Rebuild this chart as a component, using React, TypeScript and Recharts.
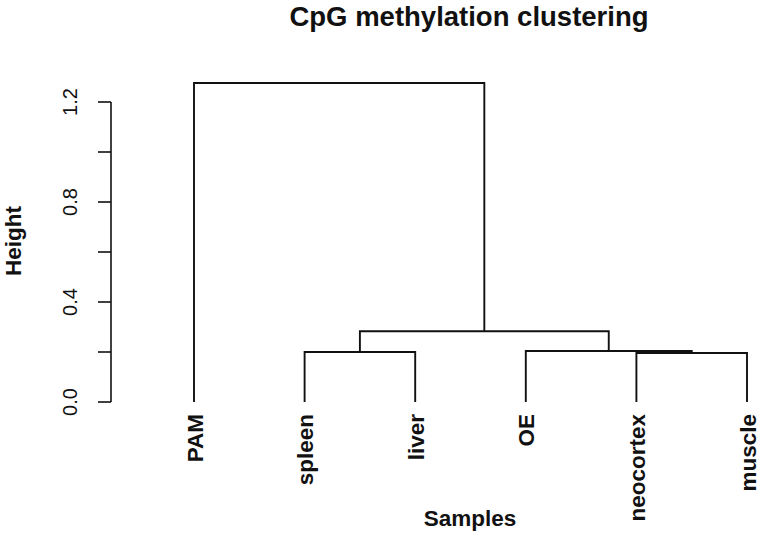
import React from "react";
import { ComposedChart, Line, XAxis, YAxis, ReferenceLine } from "recharts";

// leaves in dendrogram order
const LEAVES = ["PAM", "spleen", "liver", "OE", "neocortex", "muscle"];
// hclust-style merges: negative = leaf (1-based position), positive = earlier merge
const MERGE_LEFT = [-5, -2, -4, 2, -1];
const MERGE_RIGHT = [-6, -3, 1, 3, 4];
const MERGE_HEIGHT = [0.196, 0.2, 0.204, 0.283, 1.276];
const Y_TICKS = [0, 0.2, 0.4, 0.6, 0.8, 1.0, 1.2];
const Y_LABELED = [0, 0.4, 0.8, 1.2];

const FONT = '"Liberation Sans", Arial, Helvetica, sans-serif';
const X_MIN = 1 - 83 / 110.6;
const X_MAX = 6 + 13 / 110.6;

type Pt = { x: number; y: number };

const buildSegments = (): Pt[][] => {
  const nodeX: number[] = [];
  const pos = (id: number) =>
    id < 0 ? { x: -id, y: 0 } : { x: nodeX[id - 1], y: MERGE_HEIGHT[id - 1] };
  return MERGE_HEIGHT.map((h, i) => {
    const l = pos(MERGE_LEFT[i]);
    const r = pos(MERGE_RIGHT[i]);
    nodeX.push((l.x + r.x) / 2);
    return [
      { x: l.x, y: l.y },
      { x: l.x, y: h },
      { x: r.x, y: h },
      { x: r.x, y: r.y },
    ];
  });
};

const segments = buildSegments();

const LeafTick = ({ x, payload }: { x?: number; y?: number; payload?: { value: number } }) => {
  const bx = (x ?? 0) + 8.5;
  const by = 414;
  return (
    <text
      x={bx}
      y={by}
      transform={`rotate(-90, ${bx}, ${by})`}
      textAnchor="end"
      fontFamily={FONT}
      fontWeight="bold"
      fontSize={22.5}
      fill="#111"
    >
      {LEAVES[(payload?.value ?? 1) - 1]}
    </text>
  );
};

const HeightTick = ({ y, payload }: { x?: number; y?: number; payload?: { value: number } }) => {
  const v = payload?.value ?? 0;
  if (!Y_LABELED.some(t => Math.abs(t - v) < 1e-6)) return null;
  const bx = 77;
  return (
    <text
      x={bx}
      y={y}
      transform={`rotate(-90, ${bx}, ${y})`}
      textAnchor="middle"
      fontFamily={FONT}
      fontSize={20}
      fill="#111"
    >
      {v.toFixed(1)}
    </text>
  );
};

export default function App() {
  return (
    <div style={{ position: "absolute", left: 0, top: 0, width: 760, height: 533, background: "#fff" }}>
      <ComposedChart width={760} height={533} margin={{ top: 77, right: 0, bottom: 0, left: 0 }}>
        <XAxis
          dataKey="x"
          type="number"
          domain={[X_MIN, X_MAX]}
          ticks={[1, 2, 3, 4, 5, 6]}
          interval={0}
          axisLine={false}
          tickLine={false}
          height={131}
          tick={<LeafTick />}
        />
        <YAxis
          type="number"
          domain={[0, 1.3]}
          ticks={Y_TICKS}
          interval={0}
          width={111}
          axisLine={false}
          tickSize={13}
          tickLine={{ stroke: "#111", strokeWidth: 1.6 }}
          tick={<HeightTick />}
        />
        <ReferenceLine
          segment={[{ x: X_MIN, y: 0 }, { x: X_MIN, y: 1.2 }]}
          stroke="#111"
          strokeWidth={1.6}
          ifOverflow="visible"
        />
        {segments.map((seg, i) => (
          <Line
            key={i}
            data={seg}
            dataKey="y"
            type="linear"
            stroke="#111"
            strokeWidth={1.9}
            dot={false}
            activeDot={false}
            isAnimationActive={false}
          />
        ))}
      </ComposedChart>
      <svg width={760} height={533} style={{ position: "absolute", left: 0, top: 0, pointerEvents: "none" }}>
        <text x={469} y={25.5} textAnchor="middle" fontFamily={FONT} fontWeight="bold" fontSize={27.5} fill="#111">
          CpG methylation clustering
        </text>
        <text
          x={21}
          y={241}
          transform="rotate(-90, 21, 241)"
          textAnchor="middle"
          fontFamily={FONT}
          fontWeight="bold"
          fontSize={22.5}
          fill="#111"
        >
          Height
        </text>
        <text x={470} y={526} textAnchor="middle" fontFamily={FONT} fontWeight="bold" fontSize={22.5} fill="#111">
          Samples
        </text>
      </svg>
    </div>
  );
}
